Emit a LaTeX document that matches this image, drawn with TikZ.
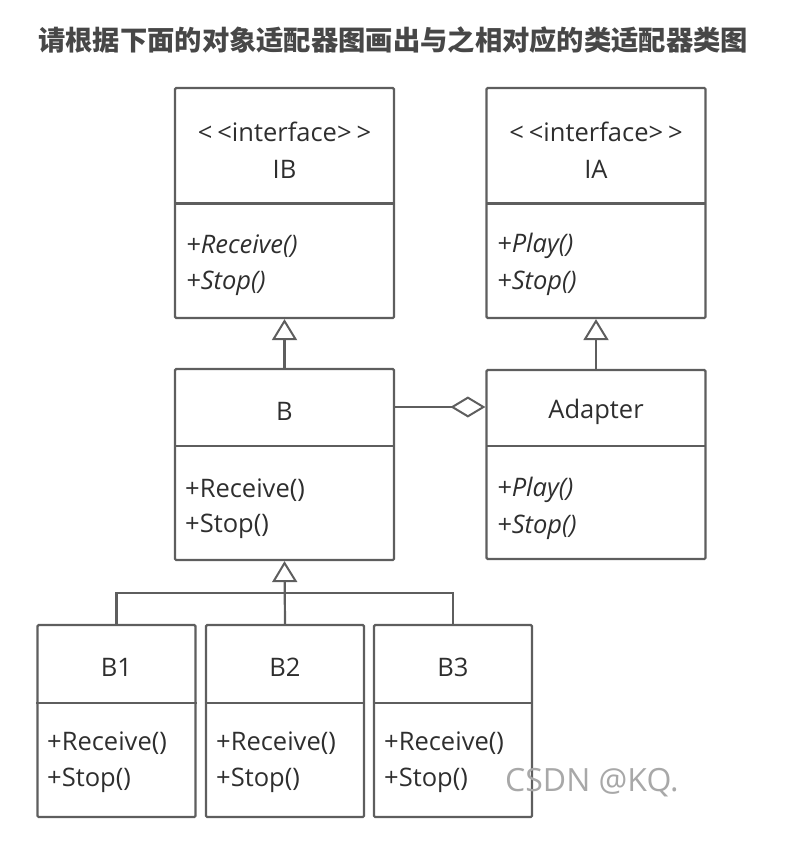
\documentclass[tikz,border=0pt]{standalone}
\usepackage{fontspec}
\setmainfont{Open Sans}
\newfontfamily\cjk{Noto Sans CJK SC}
\usetikzlibrary{arrows.meta}
\definecolor{boxline}{HTML}{5E5E5E}
\definecolor{ink}{HTML}{2E2E2E}
\definecolor{headink}{HTML}{474747}
\definecolor{markgray}{HTML}{A8A8A8}
\newcommand{\stereo}[1]{<\kern5pt<#1>\kern5pt>}
\begin{document}
\begin{tikzpicture}[x=1pt,y=-1pt,
  umlbox/.style={draw=boxline,line width=2.2pt,rounded corners=1.2pt,inner sep=0pt,
    minimum width=#1},
  umlbox/.default=219pt,
  divider/.style={draw=boxline,line width=2.2pt},
  link/.style={draw=boxline,line width=2.2pt},
  title/.style={text=ink,font=\fontsize{25.5}{29}\selectfont,inner sep=0pt},
  member/.style={text=ink,font=\fontsize{25.5}{29}\selectfont,anchor=west,inner sep=0pt},
  imember/.style={member,font=\fontsize{25.5}{29}\selectfont\itshape},
  inherit/.style={link,-{Triangle[open,length=21pt,width=25pt,line width=2pt]}},
  aggregate/.style={link,{Diamond[open,length=35pt,width=21pt,line width=2pt]}-}
]
\useasboundingbox (0,0) rectangle (811,854);

% heading
\node[text=headink,font=\cjk\bfseries\fontsize{27.3}{30}\selectfont,anchor=west,inner sep=0pt]
  (heading) at (38,40) {请根据下面的对象适配器图画出与之相对应的类适配器类图};

% interface IB
\node[umlbox,minimum height=230pt] (IB) at (284.5,203) {};
\draw[divider] (175,203.5) -- (394,203.5);
\node[title] (IBst) at (284.5,132) {\stereo{interface}};
\node[title] (IBname) at (284.5,169) {IB};
\node[imember] (IBm1) at (186,246) {+Receive()};
\node[imember] (IBm2) at (186,283) {+Stop()};

% interface IA
\node[umlbox,minimum height=230pt] (IA) at (596,203) {};
\draw[divider] (486,203.5) -- (706,203.5);
\node[title] (IAst) at (596,132) {\stereo{interface}};
\node[title] (IAname) at (596,169) {IA};
\node[imember] (IAm1) at (497,246) {+Play()};
\node[imember] (IAm2) at (497,283) {+Stop()};

% class B
\node[umlbox,minimum height=191pt] (B) at (284.5,464.5) {};
\draw[divider] (175,446) -- (394,446);
\node[title] (Bname) at (284.5,411) {B};
\node[member] (Bm1) at (185,490) {+Receive()};
\node[member] (Bm2) at (185,526) {+Stop()};

% class Adapter
\node[umlbox,minimum height=189pt] (Adapter) at (596,464.5) {};
\draw[divider] (486,446) -- (706,446);
\node[title] (Adname) at (596,412) {Adapter};
\node[imember] (Adm1) at (497,490) {+Play()};
\node[imember] (Adm2) at (497,527) {+Stop()};

% subclasses B1, B2, B3
\foreach \n/\cx/\lx in {B1/116.5/47, B2/285/216, B3/453/384}{
  \node[umlbox=158pt,minimum height=192pt] (\n) at (\cx,721) {};
  \draw[divider] (\n.west |- 0,703) -- (\n.east |- 0,703);
  \node[title] (\n name) at (\cx,667) {\n};
  \node[member] (\n m1) at (\lx,743) {+Receive()};
  \node[member] (\n m2) at (\lx,780) {+Stop()};
}

% relations
\draw[inherit] (B.north) -- (IB.south);
\draw[inherit] (Adapter.north) -- (IA.south);
\coordinate (fork) at (285,593);
\draw[link] (B1.north) |- (fork) -| (B3.north);
\draw[inherit] (B2.north) -- (B.south);
\draw[aggregate] (Adapter.west |- 0,407) -- (B.east |- 0,407);

% watermark
\node[text=markgray,font=\fontsize{32}{35}\selectfont,anchor=west,inner sep=0pt]
  (mark) at (505,783) {CSDN @KQ.};
\end{tikzpicture}
\end{document}
